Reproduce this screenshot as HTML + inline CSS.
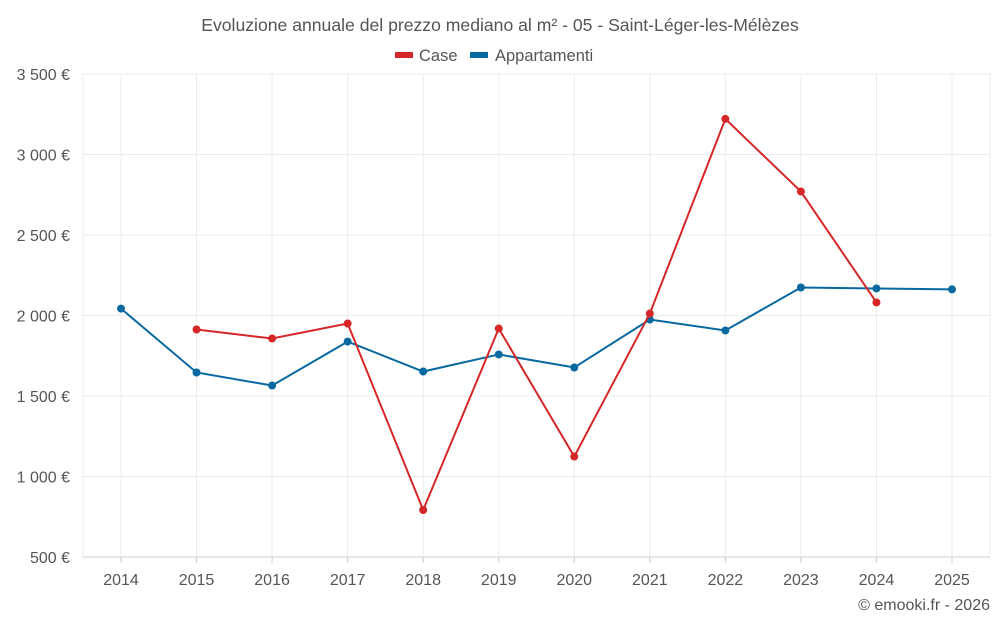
<!DOCTYPE html>
<html><head><meta charset="utf-8"><style>
body{margin:0;background:#fff;font-family:"Liberation Sans",sans-serif}
svg text{font-family:"Liberation Sans",sans-serif}
</style></head><body>
<svg id="chart" width="1000" height="625">
<text x="500" y="31" text-anchor="middle" font-size="17.6" fill="#555">Evoluzione annuale del prezzo mediano al m² - 05 - Saint-Léger-les-Mélèzes</text>
<g>
<g><rect x="395" y="52" width="18" height="6" fill="#d62728"/><text x="419" y="61" font-size="16.5" fill="#555">Case</text></g>
<g><rect x="470" y="52" width="18" height="6" fill="#0868a0"/><text x="495" y="61" font-size="16.5" fill="#555">Appartamenti</text></g>
</g>
<g id="grid"></g>
<g id="axes"></g>
<g id="series"></g>
<text x="990" y="610" text-anchor="end" font-size="16" fill="#555">© emooki.fr - 2026</text>
</svg>
<script>
const years=[2014,2015,2016,2017,2018,2019,2020,2021,2022,2023,2024,2025];
const caseValues=[null,1913,1857,1950,792,1919,1124,2012,3221,2770,2081,null];
const apptValues=[2043,1646,1565,1838,1652,1758,1677,1975,1907,2174,2168,2162];
const yTicks=[500,1000,1500,2000,2500,3000,3500];
const yTickLabels=["500 €","1 000 €","1 500 €","2 000 €","2 500 €","3 000 €","3 500 €"];
const NS="http://www.w3.org/2000/svg";
const L=83,R=990,T=74,B=557;
function xs(i){return 121+i*(952-121)/(years.length-1);}
function ys(v){return B-(v-500)/(3500-500)*(B-T);}
function mk(tag,a,p){const e=document.createElementNS(NS,tag);for(const k in a)e.setAttribute(k,a[k]);p.appendChild(e);return e;}
const grid=document.getElementById('grid'),axes=document.getElementById('axes'),series=document.getElementById('series');
yTicks.forEach((v,i)=>{
 const ln=mk('line',{x1:L,x2:R,y1:ys(v),y2:ys(v),stroke:i==0?'#ccc':'#ebebeb'},grid);
 
 
 const t=mk('text',{x:70,y:ys(v)+6,'text-anchor':'end','font-size':16,fill:'#555'},axes);
 t.textContent=yTickLabels[i];
 
 
});
[L,R].forEach(x=>{const ln=mk('line',{x1:x,x2:x,y1:T,y2:B,stroke:'#ebebeb'},grid);
 
 });
years.forEach((y,i)=>{
 const ln=mk('line',{x1:xs(i),x2:xs(i),y1:T,y2:B,stroke:'#ebebeb'},grid);
 
 
 const tk=mk('line',{x1:xs(i),x2:xs(i),y1:B,y2:B+6,stroke:'#ccc'},axes);
 
 
 const t=mk('text',{x:xs(i),y:585,'text-anchor':'middle','font-size':16,fill:'#555'},axes);
 t.textContent=y;
 
 
});
function draw(vals,color,name){
 let d='';vals.forEach((v,i)=>{if(v==null)return;d+=(d?'L':'M')+xs(i)+','+ys(v);});
 const p=mk('path',{d:d,fill:'none',stroke:color,'stroke-width':2},series);
 
 
 vals.forEach((v,i)=>{if(v==null)return;
  const c=mk('circle',{cx:xs(i),cy:ys(v),r:4,fill:color},series);
  
  });
}
draw(apptValues,'#0868a0','appartamenti');
draw(caseValues,'#d62728','case');
</script>
</body></html>
